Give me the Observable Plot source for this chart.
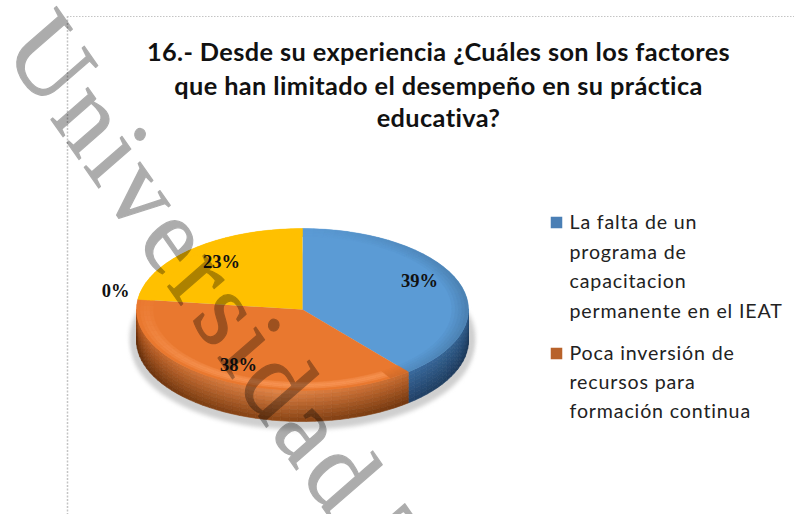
<!DOCTYPE html>
<html><head><meta charset="utf-8">
<script src="https://cdn.jsdelivr.net/npm/d3@7"></script>
<script src="https://cdn.jsdelivr.net/npm/@observablehq/plot@0.6"></script>
<style>
html,body{margin:0;padding:0;background:#fff;overflow:hidden}
</style></head><body><div id="c"></div>
<script>
const categories = ["La falta de un programa de capacitacion permanente en el IEAT","Poca inversión de recursos para formación continua","Otros","Otros factores"];
const values = [39,38,0,23];
const labels = ["39%","38%","0%","23%"];
const colors = ["#5b9bd5","#e9782f","#a5a5a5","#ffc000"];
const titleLines = ["16.- Desde su experiencia ¿Cuáles son los factores","que han limitado el desempeño en su práctica","educativa?"];
const legendLines = [["La falta de un","programa de","capacitacion","permanente en el IEAT"],["Poca inversión de","recursos para","formación continua"]];
const watermark = "Universidad Técnica";

// pie geometry (screen layout)
const cx=302, cy=309, rx=166, ry=81, depth=31;
const P=(deg,k=1,dz=0)=>{const t=deg*Math.PI/180;return {x:cx+rx*k*Math.sin(t),y:cy-ry*k*Math.cos(t)+dz}};
const total=d3.sum(values);
let acc=0;
const slices=values.map((v,i)=>{const s={i,a0:acc/total*360,a1:(acc+v)/total*360};acc+=v;return s});

const range=(a,b,st)=>{const n=Math.max(1,Math.ceil((b-a)/st));return d3.range(n+1).map(i=>a+(b-a)*i/n)};
const topPts=[], rimPts=[], sidePts=[];
for(const s of slices){ if(s.a1<=s.a0) continue;
  topPts.push(...[{x:cx,y:cy},...range(s.a0,s.a1,2).map(a=>P(a))].map(p=>({...p,id:s.i,c:colors[s.i]})));
  const base=d3.color(colors[s.i]);
  // bevel rim
  const rings=5;
  for(let r=0;r<rings;r++){
    const k0=0.90+0.10*r/rings,k1=0.90+0.10*(r+1)/rings;
    const as=range(s.a0,s.a1,4);
    for(let j=0;j<as.length-1;j++){
      const m=(as[j]+as[j+1])/2;
      const front=-Math.cos(m*Math.PI/180); // 1 at bottom
      const side=Math.sin(m*Math.PI/180);   // 1 right
      const u=(r+1)/rings;
      let col;
      if(s.i===0||side>0.5) col=d3.interpolateRgb(base,base.darker(0.55))(u*Math.max(0,side)*0.9);
      else col=d3.interpolateRgb(base,"#fb9c5e")(Math.max(0,front*0.8+.2)*Math.sin(u*Math.PI)*0.75);
      if(s.i===3) col=base.toString();
      const id=`r${s.i}-${r}-${j}`;
      [P(as[j],k0),P(as[j+1],k0),P(as[j+1],k1),P(as[j],k1),P(as[j],k0)].forEach(p=>rimPts.push({...p,id,c:col}));
    }
  }
  // side wall, front half only
  const a0=Math.max(s.a0,90),a1=Math.min(s.a1,270);
  if(a1>a0){
    const as=range(a0,a1,3), steps=8;
    const topC=s.i===0?["#3f74aa","#2c5784"]:["#e58749","#b5561b"];
    const botC=s.i===0?["#24456e","#1a3554"]:["#8a4515","#5d2b0a"];
    for(let j=0;j<as.length-1;j++){
      const m=(as[j]+as[j+1])/2, t=(m-90)/180;
      const w=s.i===0?1-t*2.5:Math.min(1,Math.abs(t-.55)*2.2);
      for(let d=0;d<steps;d++){
        const col=d3.interpolateRgb(d3.interpolateRgb(topC[0],topC[1])(w),d3.interpolateRgb(botC[0],botC[1])(w))((d+.5)/steps);
        const id=`s${s.i}-${j}-${d}`;
        const z0=depth*d/steps,z1=depth*(d+1)/steps;
        [P(as[j],1,z0),P(as[j+1],1,z0),P(as[j+1],1,z1),P(as[j],1,z1),P(as[j],1,z0)].forEach(p=>sidePts.push({...p,id,c:col}));
      }
    }
  }
}
const shadowPts=range(0,360,4).map(a=>{const p=P(a,1.04,depth-4);return {...p,id:"sh"}});
const shadowPts2=range(0,360,4).map(a=>{const p=P(a,1.03,depth+6);return {...p,id:"sh2"}});
const labelPos=[{x:419,y:281},{x:238,y:365},{x:115,y:291},{x:221,y:262}];
const labelRows=labels.map((t,i)=>({t,...labelPos[i]}));
const titleRows=titleLines.map((t,i)=>({t,x:438,y:[52,86,118][i]}));
const legendY=[[222,252,281,311],[353,382,411]];
const legendRows=legendLines.flatMap((ls,g)=>ls.map((t,i)=>({t,x:569,y:legendY[g][i]})));
const swatches=legendLines.map((_,g)=>({x:556,y:legendY[g][0],c:g===0?"#4a7fb5":"#b8622a"}));

const chart=Plot.plot({
  width:794,height:514,margin:0,
  x:{domain:[0,794],range:[0,794],axis:null},
  y:{domain:[0,514],range:[0,514],axis:null},
  color:{type:"identity"},
  style:{background:"#fff"},
  marks:[
    Plot.ruleY([16],{x1:67,x2:794,stroke:"#c4c4c4",strokeDasharray:"1.5 1.5",strokeWidth:1}),
    Plot.ruleX([67],{y1:16,y2:514,stroke:"#c4c4c4",strokeDasharray:"2 1.5",strokeWidth:1.5}),
    Plot.line(shadowPts,{x:"x",y:"y",z:"id",fill:"#cfcfcf",stroke:"none",imageFilter:"blur(2px)"}),
    Plot.line(shadowPts2,{x:"x",y:"y",z:"id",fill:"#cfcfcf",stroke:"none",imageFilter:"blur(2px)"}),
    Plot.line(sidePts,{x:"x",y:"y",z:"id",fill:"c",stroke:"c",strokeWidth:.6}),
    Plot.line(topPts,{x:"x",y:"y",z:"id",fill:"c",stroke:"none"}),
    Plot.line(rimPts,{x:"x",y:"y",z:"id",fill:"c",stroke:"c",strokeWidth:.4}),
    Plot.text(labelRows,{x:"x",y:"y",text:"t",fontFamily:"Liberation Serif",fontWeight:"bold",fontSize:18.5,fill:"#111"}),
    Plot.text(titleRows,{x:"x",y:"y",text:"t",fontFamily:"Lato",fontWeight:"bold",fontSize:25.3,fill:"#111"}),
    Plot.dot(swatches,{x:"x",y:"y",symbol:"square",r:6.5,fill:"c",stroke:"none"}),
    Plot.text(legendRows,{x:"x",y:"y",text:"t",textAnchor:"start",fontFamily:"Lato",fontSize:19.6,fill:"#222"}),
    Plot.text([watermark],{x:()=>2,y:()=>50,text:d=>d,rotate:55,textAnchor:"start",lineAnchor:"bottom",fontFamily:"Liberation Serif",fontSize:106,fill:"#000",stroke:"#000",strokeWidth:1.2,opacity:.32})
  ]
});
const spacing=new Map([...titleLines.map(t=>[t,.4]),...legendLines.flat().map(t=>[t,.85]),[watermark,5.4]]);
chart.querySelectorAll("text").forEach(el=>{
  const s=spacing.get(el.textContent);
  if(s!=null)el.style.letterSpacing=s+"px";
  if(el.textContent===watermark){
    const host=el.getAttribute("transform")?el:el.parentNode;
    host.setAttribute("transform",(host.getAttribute("transform")||"")+" skewX(6)");
  }
});
document.getElementById("c").appendChild(chart);
</script></body></html>
